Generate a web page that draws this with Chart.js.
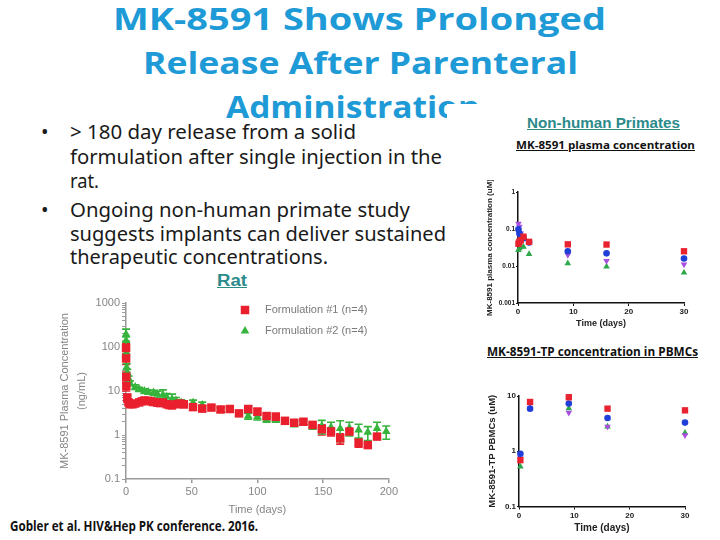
<!DOCTYPE html>
<html><head><meta charset="utf-8">
<script src="https://cdn.jsdelivr.net/npm/chart.js@4.4.1/dist/chart.umd.min.js"></script>
<style>
html,body{margin:0;padding:0;background:#fff;}
body{width:720px;height:540px;position:relative;overflow:hidden;}
.t{position:absolute;white-space:nowrap;line-height:1;transform-origin:0 0;}
.title{font-family:'Open Sans';font-weight:700;font-size:31px;color:#1e9ad6;}
.bul{font-family:'Noto Sans';font-size:20px;color:#1a1a1a;}
.head{font-family:'Liberation Sans';font-weight:bold;color:#2b8a8a;text-decoration:underline;}
.sub{font-family:'Open Sans';font-weight:700;color:#111;text-decoration:underline;}
canvas{position:absolute;}
</style></head><body>
<div class="t title" style="left:113px;top:3px" data-w="493">MK-8591 Shows Prolonged</div>
<div class="t title" style="left:143px;top:47px" data-w="435">Release After Parenteral</div>
<div class="t title" style="left:226px;top:91px" data-w="254">Administration</div>
<div style="position:absolute;left:447px;top:104px;width:273px;height:40px;background:#fff"></div>

<div class="t bul" style="left:41px;top:122px">•</div>
<div class="t bul" style="left:70px;top:122px" data-w="286">&gt; 180 day release from a solid</div>
<div class="t bul" style="left:70px;top:147px" data-w="372">formulation after single injection in the</div>
<div class="t bul" style="left:70px;top:171px" data-w="29">rat.</div>
<div class="t bul" style="left:41px;top:200px">•</div>
<div class="t bul" style="left:70px;top:200px" data-w="340">Ongoing non-human primate study</div>
<div class="t bul" style="left:70px;top:224px" data-w="376">suggests implants can deliver sustained</div>
<div class="t bul" style="left:70px;top:247px" data-w="258">therapeutic concentrations.</div>

<div class="t head" style="left:217px;top:273px;font-size:16px" data-w="30">Rat</div>
<div class="t head" style="left:527px;top:115px;font-size:15.5px" data-w="153">Non-human Primates</div>
<div class="t sub" style="left:516px;top:139.5px;font-size:10.5px" data-w="179">MK-8591 plasma concentration</div>
<div class="t sub" style="left:487px;top:345.5px;font-size:11.5px" data-w="211">MK-8591-TP concentration in PBMCs</div>
<div class="t" style="left:10px;top:519.5px;font-family:'Open Sans';font-weight:700;font-size:13.5px;color:#111" data-w="248">Gobler et al. HIV&amp;Hep PK conference. 2016.</div>

<canvas id="rat" width="345" height="235" style="left:55px;top:290px"></canvas>
<canvas id="nhp" width="228" height="150" style="left:482px;top:180px"></canvas>
<canvas id="pbmc" width="228" height="155" style="left:482px;top:385px"></canvas>

<script>
// ---------------- DATA ----------------
// Rat (ng/mL vs days)
const ratDays1 = [0.04,0.08,0.17,0.25,1,2,3,5,7,10, 12,14,17,19,21,24,26,28,31,33, 35,38,41,44,51,58,65,72,79,86, 93,100,107,114,121,128,135,142,149,156, 163,170,177,184,191];
const ratConc1 = [95,55,21,13,7,5.5,5,5,5.2,5.5, 5.8,6.1,6,5.8,5.6,5.4,5.3,5.5,5,4.8, 4.7,5,5.2,5,4.3,4.0,4.2,3.8,3.9,3.1, 3.9,3.4,2.7,2.6,2.1,1.9,2.0,1.7,1.35,1.2, 0.84,1.2,0.67,0.59,0.92];
const ratErr1  = [25,15,6,3,1.5,0.8,0.6,0.5,0.5,0.5, 0.6,0.6,0.6,0.5,0.5,0.6,0.5,0.6,0.6,0.5, 0.6,0.6,0.7,0.8,0.5,0.6,0.4,0.5,0.5,0.3, 0.7,0.6,0.4,0.5,0.3,0.3,0.3,0.2,0.35,0.25, 0.22,0.15,0.14,0.06,0.12];
const ratDays2 = [0.04,0.08,0.17,0.5,1,2,3,7,10,14, 17,21,24,28,31,35,38,42,51,58, 72,79,93,100,107,114,121,128,135,142, 149,156,163,170,177,184,191,198];
const ratConc2 = [195,140,75,34,26,19,15,12.3,11,10, 9.5,9.2,8.4,8.1,7.3,6.5,6.1,5.5,5.4,4.8, 3.7,3.7,2.7,2.6,2.25,2.25,2.0,1.8,1.9,1.55, 1.6,1.5,1.4,1.45,1.3,1.15,1.4,1.2];
const ratErr2  = [60,30,15,8,5,3,2,1.5,1.2,1.2, 1,1.2,1.5,2.5,1.5,2,1,0.8,0.8,0.8, 0.4,0.4,0.4,0.4,0.3,0.3,0.25,0.25,0.2,0.2, 0.55,0.45,0.7,0.5,0.45,0.4,0.55,0.4];
const ratSeries = ['Formulation #1 (n=4)','Formulation #2 (n=4)'];
const ratXTicks = [0,50,100,150,200];
const ratYTicks = [0.1,1,10,100,1000];
const ratYLabels = ['0.1','1','10','100','1000'];

// Non-human primates: plasma (uM)
const nhpDays = [0.08,0.25,0.5,1,2,9,16,30];
const plasmaRed    = [0.04,0.045,0.05,0.062,0.045,0.0385,0.038,0.025];
const plasmaBlue   = [0.098,0.076,0.062,0.056,0.043,0.025,0.022,0.016];
const plasmaPurple = [0.14,0.115,0.076,0.06,0.045,0.02,0.0137,0.011];
const plasmaGreen  = [0.027,0.03,0.033,0.033,0.021,0.0118,0.0096,0.0066];
const nhpXTicks = [0,10,20,30];
const plasmaYTicks = [0.001,0.01,0.1,1];
const plasmaYLabels = ['0.001','0.01','0.1','1'];

// Non-human primates: PBMC TP (uM)
const pbmcDays = [0.25,2,9,16,30];
const pbmcRed    = [0.69,7.8,9.5,5.9,5.5];
const pbmcBlue   = [0.9,5.9,7.3,4.0,3.3];
const pbmcPurple = [0.74,7.5,5.0,2.8,1.95];
const pbmcGreen  = [0.53,7.5,6.0,2.8,2.15];
const pbmcYTicks = [0.1,1,10];
const pbmcYLabels = ['0.1','1','10'];

// ---------------- HELPERS ----------------
document.querySelectorAll('[data-w]').forEach(el=>{
  const w = el.getBoundingClientRect().width;
  el.style.transform = 'scaleX(' + (parseFloat(el.dataset.w)/w) + ')';
});
const pts = (xs, ys) => xs.map((x,i)=>({x:x, y:ys[i]}));
function logTickValues(decades, withMinor){
  const out=[];
  for(let i=0;i<decades.length;i++){
    out.push(decades[i]);
    if(withMinor && i<decades.length-1){ for(let k=2;k<=9;k++) out.push(+(k*decades[i]).toPrecision(6)); }
  }
  return out;
}
function labelFor(values, labels){
  return v => { const i = values.findIndex(t=>Math.abs(t-v)/t<1e-6); return i>=0 ? labels[i] : ''; };
}
const errorBars = {
  id:'errorBars',
  beforeDatasetsDraw(chart){
    const ctx=chart.ctx, ys=chart.scales.y;
    chart.data.datasets.forEach((ds,di)=>{
      if(!ds.errors) return;
      const meta=chart.getDatasetMeta(di);
      ctx.save(); ctx.strokeStyle=ds.borderColor; ctx.lineWidth=1.6;
      meta.data.forEach((p,i)=>{
        const v=ds.data[i].y, e=ds.errors[i]; if(!e) return;
        const t=ys.getPixelForValue(v+e);
        const b= v-e>0 ? ys.getPixelForValue(v-e) : ys.bottom;
        ctx.beginPath();
        ctx.moveTo(p.x,t); ctx.lineTo(p.x,b);
        ctx.moveTo(p.x-4,t); ctx.lineTo(p.x+4,t);
        ctx.moveTo(p.x-4,b); ctx.lineTo(p.x+4,b);
        ctx.stroke();
      });
      ctx.restore();
    });
  }
};
const ratLegend = {
  id:'ratLegend',
  afterDraw(chart){
    const ctx=chart.ctx, a=chart.chartArea;
    chart.data.datasets.forEach((ds,i)=>{
      const y=a.top+7+21*i;
      ctx.save();
      ctx.fillStyle=ds.backgroundColor; ctx.strokeStyle=ds.borderColor;
      Chart.helpers.drawPoint(ctx,{pointStyle:ds.pointStyle,radius:ds.pointRadius,rotation:0,borderWidth:0},a.left+119,y);
      ctx.fillStyle='#7a7a7a'; ctx.font='11px "Liberation Sans"'; ctx.textBaseline='middle';
      ctx.fillText(ds.label,a.left+139,y);
      ctx.restore();
    });
  }
};
const base = {
  animation:false, responsive:false, devicePixelRatio:1,
  plugins:{legend:{display:false}, tooltip:{enabled:false}},
  elements:{point:{borderWidth:0}}
};

// ---------------- RAT ----------------
const RED='#ea1f2d', GREEN='#36b43c';
const axisGray='#9a9a9a', labGray='#858585';
new Chart(document.getElementById('rat'),{
  type:'scatter',
  data:{datasets:[
    {label:ratSeries[0],data:pts(ratDays1,ratConc1),errors:ratErr1,pointStyle:'rect',pointRadius:6,backgroundColor:RED,borderColor:RED,clip:false},
    {label:ratSeries[1],data:pts(ratDays2,ratConc2),errors:ratErr2,pointStyle:'triangle',pointRadius:5,backgroundColor:GREEN,borderColor:GREEN,clip:false}
  ]},
  options:Object.assign({},base,{
    layout:{padding:{top:13,right:11,left:0,bottom:0}},
    scales:{
      x:{type:'linear',min:0,max:200,
        afterBuildTicks:s=>{s.ticks=ratXTicks.map(v=>({value:v}));},
        afterFit:s=>{s.height=46;},
        border:{display:true,color:axisGray,width:1.5},
        grid:{display:true,drawOnChartArea:false,drawTicks:true,tickLength:4,color:axisGray,lineWidth:1.5},
        ticks:{padding:2,color:labGray,font:{family:'Liberation Sans',size:11},maxRotation:0},
        title:{display:true,text:'Time (days)',color:labGray,font:{family:'Liberation Sans',size:11},padding:{top:0,bottom:8}}
      },
      y:{type:'logarithmic',min:0.1,max:1000,
        afterBuildTicks:s=>{s.ticks=logTickValues(ratYTicks,true).map(v=>({value:v,major:ratYTicks.includes(v)}));},
        afterFit:s=>{s.width=71;},
        border:{display:true,color:axisGray,width:1.5},
        grid:{display:true,drawOnChartArea:false,drawTicks:true,tickLength:4,color:axisGray,lineWidth:1},
        ticks:{autoSkip:false,padding:2,color:labGray,font:{family:'Liberation Sans',size:11},callback:labelFor(ratYTicks,ratYLabels)},
        title:{display:true,text:['MK-8591 Plasma Concentration','(ng/mL)'],color:labGray,font:{family:'Liberation Sans',size:11,lineHeight:1.5},padding:{top:2,bottom:0}}
      }
    }
  }),
  plugins:[errorBars,ratLegend]
});

// ---------------- NHP ----------------
const NRED='#e8222e', NBLUE='#1f3ed8', NPUR='#a94fe0', NGRN='#2ea84a';
function nhpDatasets(days, r, b, p, g){
  return [
    {label:'red',data:pts(days,r),pointStyle:'rect',pointRadius:4.5,backgroundColor:NRED,borderColor:NRED,clip:false},
    {label:'blue',data:pts(days,b),pointStyle:'circle',pointRadius:3.3,backgroundColor:NBLUE,borderColor:NBLUE,clip:false},
    {label:'purple',data:pts(days,p),pointStyle:'triangle',rotation:180,pointRadius:3.8,backgroundColor:NPUR,borderColor:NPUR,clip:false},
    {label:'green',data:pts(days,g),pointStyle:'triangle',pointRadius:3.8,backgroundColor:NGRN,borderColor:NGRN,clip:false}
  ];
}
function nhpScales(yMin,yMax,yTicks,yLabels,xH,yW,yTitle,yTitleSize,yTitlePad,yTickSize,xTitlePad,xTitleSize){
  return {
    x:{type:'linear',min:0,max:30,
      afterBuildTicks:s=>{s.ticks=nhpXTicks.map(v=>({value:v}));},
      afterFit:s=>{s.height=xH;},
      border:{display:true,color:'#111',width:1.5},
      grid:{display:true,drawOnChartArea:false,drawTicks:true,tickLength:3,color:'#111',lineWidth:1},
      ticks:{padding:1,color:'#222',font:{family:'Liberation Sans',size:8,weight:'bold'},maxRotation:0},
      title:{display:true,text:'Time (days)',color:'#222',font:{family:'Liberation Sans',size:xTitleSize,weight:'bold'},padding:{top:0,bottom:xTitlePad}}
    },
    y:{type:'logarithmic',min:yMin,max:yMax,
      afterBuildTicks:s=>{s.ticks=yTicks.map(v=>({value:v,major:true}));},
      afterFit:s=>{s.width=yW;},
      border:{display:true,color:'#111',width:1.5},
      grid:{display:true,drawOnChartArea:false,drawTicks:true,tickLength:2,color:'#111',lineWidth:1},
      ticks:{autoSkip:false,padding:1,color:'#222',font:{family:'Liberation Sans',size:yTickSize,weight:'bold'},callback:labelFor(yTicks,yLabels)},
      title:{display:true,text:yTitle,color:'#222',font:{family:'Liberation Sans',size:yTitleSize,weight:'bold'},padding:{top:yTitlePad,bottom:0}}
    }
  };
}
new Chart(document.getElementById('nhp'),{
  type:'scatter',
  data:{datasets:nhpDatasets(nhpDays,plasmaRed,plasmaBlue,plasmaPurple,plasmaGreen)},
  options:Object.assign({},base,{
    layout:{padding:{top:12,right:26,left:0,bottom:0}},
    scales:nhpScales(0.001,1,plasmaYTicks,plasmaYLabels,27,36,'MK-8591 plasma concentration (uM)',8,3,6.5,1.5,9)
  })
});
new Chart(document.getElementById('pbmc'),{
  type:'scatter',
  data:{datasets:nhpDatasets(pbmcDays,pbmcRed,pbmcBlue,pbmcPurple,pbmcGreen)},
  options:Object.assign({},base,{
    layout:{padding:{top:11,right:25,left:0,bottom:0}},
    scales:nhpScales(0.1,10,pbmcYTicks,pbmcYLabels,33.5,37,'MK-8591-TP PBMCs (uM)',9.5,5,8,6,10)
  })
});
</script>
</body></html>
